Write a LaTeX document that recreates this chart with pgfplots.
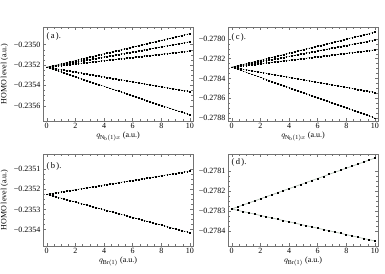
\documentclass[border=0pt]{standalone}
\usepackage{fontspec}
\setmainfont{Liberation Serif}
\usepackage{pgfplots}
\usepackage{pgfplotstable}
\pgfplotsset{compat=1.18}
\definecolor{lgl}{rgb}{0.72,0.77,0.72}

\pgfplotstableread{
x a1 a2 a3 a4 a5
0 -0.2352200 -0.2352200 -0.2352200 -0.2352200 -0.2352200
0.2 -0.2352134 -0.2352150 -0.2352168 -0.2352248 -0.2352294
0.4 -0.2352068 -0.2352100 -0.2352136 -0.2352296 -0.2352388
0.6 -0.2352002 -0.2352050 -0.2352104 -0.2352344 -0.2352482
0.8 -0.2351936 -0.2352000 -0.2352072 -0.2352392 -0.2352576
1.0 -0.2351870 -0.2351950 -0.2352040 -0.2352440 -0.2352670
1.2 -0.2351804 -0.2351900 -0.2352008 -0.2352488 -0.2352764
1.4 -0.2351738 -0.2351850 -0.2351976 -0.2352536 -0.2352858
1.6 -0.2351672 -0.2351800 -0.2351944 -0.2352584 -0.2352952
1.8 -0.2351606 -0.2351750 -0.2351912 -0.2352632 -0.2353046
2.0 -0.2351540 -0.2351700 -0.2351880 -0.2352680 -0.2353140
2.2 -0.2351474 -0.2351650 -0.2351848 -0.2352728 -0.2353234
2.4 -0.2351408 -0.2351600 -0.2351816 -0.2352776 -0.2353328
2.6 -0.2351342 -0.2351550 -0.2351784 -0.2352824 -0.2353422
2.8 -0.2351276 -0.2351500 -0.2351752 -0.2352872 -0.2353516
3.0 -0.2351210 -0.2351450 -0.2351720 -0.2352920 -0.2353610
3.2 -0.2351144 -0.2351400 -0.2351688 -0.2352968 -0.2353704
3.4 -0.2351078 -0.2351350 -0.2351656 -0.2353016 -0.2353798
3.6 -0.2351012 -0.2351300 -0.2351624 -0.2353064 -0.2353892
3.8 -0.2350946 -0.2351250 -0.2351592 -0.2353112 -0.2353986
4.0 -0.2350880 -0.2351200 -0.2351560 -0.2353160 -0.2354080
4.2 -0.2350814 -0.2351150 -0.2351528 -0.2353208 -0.2354174
4.4 -0.2350748 -0.2351100 -0.2351496 -0.2353256 -0.2354268
4.6 -0.2350682 -0.2351050 -0.2351464 -0.2353304 -0.2354362
4.8 -0.2350616 -0.2351000 -0.2351432 -0.2353352 -0.2354456
5.0 -0.2350550 -0.2350950 -0.2351400 -0.2353400 -0.2354550
5.2 -0.2350484 -0.2350900 -0.2351368 -0.2353448 -0.2354644
5.4 -0.2350418 -0.2350850 -0.2351336 -0.2353496 -0.2354738
5.6 -0.2350352 -0.2350800 -0.2351304 -0.2353544 -0.2354832
5.8 -0.2350286 -0.2350750 -0.2351272 -0.2353592 -0.2354926
6.0 -0.2350220 -0.2350700 -0.2351240 -0.2353640 -0.2355020
6.2 -0.2350154 -0.2350650 -0.2351208 -0.2353688 -0.2355114
6.4 -0.2350088 -0.2350600 -0.2351176 -0.2353736 -0.2355208
6.6 -0.2350022 -0.2350550 -0.2351144 -0.2353784 -0.2355302
6.8 -0.2349956 -0.2350500 -0.2351112 -0.2353832 -0.2355396
7.0 -0.2349890 -0.2350450 -0.2351080 -0.2353880 -0.2355490
7.2 -0.2349824 -0.2350400 -0.2351048 -0.2353928 -0.2355584
7.4 -0.2349758 -0.2350350 -0.2351016 -0.2353976 -0.2355678
7.6 -0.2349692 -0.2350300 -0.2350984 -0.2354024 -0.2355772
7.8 -0.2349626 -0.2350250 -0.2350952 -0.2354072 -0.2355866
8.0 -0.2349560 -0.2350200 -0.2350920 -0.2354120 -0.2355960
8.2 -0.2349494 -0.2350150 -0.2350888 -0.2354168 -0.2356054
8.4 -0.2349428 -0.2350100 -0.2350856 -0.2354216 -0.2356148
8.6 -0.2349362 -0.2350050 -0.2350824 -0.2354264 -0.2356242
8.8 -0.2349296 -0.2350000 -0.2350792 -0.2354312 -0.2356336
9.0 -0.2349230 -0.2349950 -0.2350760 -0.2354360 -0.2356430
9.2 -0.2349164 -0.2349900 -0.2350728 -0.2354408 -0.2356524
9.4 -0.2349098 -0.2349850 -0.2350696 -0.2354456 -0.2356618
9.6 -0.2349032 -0.2349800 -0.2350664 -0.2354504 -0.2356712
9.8 -0.2348966 -0.2349750 -0.2350632 -0.2354552 -0.2356806
10.0 -0.2348900 -0.2349700 -0.2350600 -0.2354600 -0.2356900
}\tabA

\pgfplotstableread{
x c1 c2 c3 c4 c5
0 -0.2782850 -0.2782850 -0.2782850 -0.2782850 -0.2782850
0.2 -0.2782779 -0.2782795 -0.2782815 -0.2782901 -0.2782953
0.4 -0.2782708 -0.2782740 -0.2782780 -0.2782952 -0.2783056
0.6 -0.2782637 -0.2782685 -0.2782745 -0.2783003 -0.2783159
0.8 -0.2782566 -0.2782630 -0.2782710 -0.2783054 -0.2783262
1.0 -0.2782495 -0.2782575 -0.2782675 -0.2783105 -0.2783365
1.2 -0.2782424 -0.2782520 -0.2782640 -0.2783156 -0.2783468
1.4 -0.2782353 -0.2782465 -0.2782605 -0.2783207 -0.2783571
1.6 -0.2782282 -0.2782410 -0.2782570 -0.2783258 -0.2783674
1.8 -0.2782211 -0.2782355 -0.2782535 -0.2783309 -0.2783777
2.0 -0.2782140 -0.2782300 -0.2782500 -0.2783360 -0.2783880
2.2 -0.2782069 -0.2782245 -0.2782465 -0.2783411 -0.2783983
2.4 -0.2781998 -0.2782190 -0.2782430 -0.2783462 -0.2784086
2.6 -0.2781927 -0.2782135 -0.2782395 -0.2783513 -0.2784189
2.8 -0.2781856 -0.2782080 -0.2782360 -0.2783564 -0.2784292
3.0 -0.2781785 -0.2782025 -0.2782325 -0.2783615 -0.2784395
3.2 -0.2781714 -0.2781970 -0.2782290 -0.2783666 -0.2784498
3.4 -0.2781643 -0.2781915 -0.2782255 -0.2783717 -0.2784601
3.6 -0.2781572 -0.2781860 -0.2782220 -0.2783768 -0.2784704
3.8 -0.2781501 -0.2781805 -0.2782185 -0.2783819 -0.2784807
4.0 -0.2781430 -0.2781750 -0.2782150 -0.2783870 -0.2784910
4.2 -0.2781359 -0.2781695 -0.2782115 -0.2783921 -0.2785013
4.4 -0.2781288 -0.2781640 -0.2782080 -0.2783972 -0.2785116
4.6 -0.2781217 -0.2781585 -0.2782045 -0.2784023 -0.2785219
4.8 -0.2781146 -0.2781530 -0.2782010 -0.2784074 -0.2785322
5.0 -0.2781075 -0.2781475 -0.2781975 -0.2784125 -0.2785425
5.2 -0.2781004 -0.2781420 -0.2781940 -0.2784176 -0.2785528
5.4 -0.2780933 -0.2781365 -0.2781905 -0.2784227 -0.2785631
5.6 -0.2780862 -0.2781310 -0.2781870 -0.2784278 -0.2785734
5.8 -0.2780791 -0.2781255 -0.2781835 -0.2784329 -0.2785837
6.0 -0.2780720 -0.2781200 -0.2781800 -0.2784380 -0.2785940
6.2 -0.2780649 -0.2781145 -0.2781765 -0.2784431 -0.2786043
6.4 -0.2780578 -0.2781090 -0.2781730 -0.2784482 -0.2786146
6.6 -0.2780507 -0.2781035 -0.2781695 -0.2784533 -0.2786249
6.8 -0.2780436 -0.2780980 -0.2781660 -0.2784584 -0.2786352
7.0 -0.2780365 -0.2780925 -0.2781625 -0.2784635 -0.2786455
7.2 -0.2780294 -0.2780870 -0.2781590 -0.2784686 -0.2786558
7.4 -0.2780223 -0.2780815 -0.2781555 -0.2784737 -0.2786661
7.6 -0.2780152 -0.2780760 -0.2781520 -0.2784788 -0.2786764
7.8 -0.2780081 -0.2780705 -0.2781485 -0.2784839 -0.2786867
8.0 -0.2780010 -0.2780650 -0.2781450 -0.2784890 -0.2786970
8.2 -0.2779939 -0.2780595 -0.2781415 -0.2784941 -0.2787073
8.4 -0.2779868 -0.2780540 -0.2781380 -0.2784992 -0.2787176
8.6 -0.2779797 -0.2780485 -0.2781345 -0.2785043 -0.2787279
8.8 -0.2779726 -0.2780430 -0.2781310 -0.2785094 -0.2787382
9.0 -0.2779655 -0.2780375 -0.2781275 -0.2785145 -0.2787485
9.2 -0.2779584 -0.2780320 -0.2781240 -0.2785196 -0.2787588
9.4 -0.2779513 -0.2780265 -0.2781205 -0.2785247 -0.2787691
9.6 -0.2779442 -0.2780210 -0.2781170 -0.2785298 -0.2787794
9.8 -0.2779371 -0.2780155 -0.2781135 -0.2785349 -0.2787897
10.0 -0.2779300 -0.2780100 -0.2781100 -0.2785400 -0.2788000
}\tabC

\pgfplotstableread{
x b1 b2
0 -0.2352250 -0.2352250
0.2 -0.2352227 -0.2352288
0.4 -0.2352204 -0.2352326
0.6 -0.2352181 -0.2352364
0.8 -0.2352158 -0.2352402
1.0 -0.2352135 -0.2352440
1.2 -0.2352112 -0.2352478
1.4 -0.2352089 -0.2352516
1.6 -0.2352066 -0.2352554
1.8 -0.2352043 -0.2352592
2.0 -0.2352020 -0.2352630
2.2 -0.2351997 -0.2352668
2.4 -0.2351974 -0.2352706
2.6 -0.2351951 -0.2352744
2.8 -0.2351928 -0.2352782
3.0 -0.2351905 -0.2352820
3.2 -0.2351882 -0.2352858
3.4 -0.2351859 -0.2352896
3.6 -0.2351836 -0.2352934
3.8 -0.2351813 -0.2352972
4.0 -0.2351790 -0.2353010
4.2 -0.2351767 -0.2353048
4.4 -0.2351744 -0.2353086
4.6 -0.2351721 -0.2353124
4.8 -0.2351698 -0.2353162
5.0 -0.2351675 -0.2353200
5.2 -0.2351652 -0.2353238
5.4 -0.2351629 -0.2353276
5.6 -0.2351606 -0.2353314
5.8 -0.2351583 -0.2353352
6.0 -0.2351560 -0.2353390
6.2 -0.2351537 -0.2353428
6.4 -0.2351514 -0.2353466
6.6 -0.2351491 -0.2353504
6.8 -0.2351468 -0.2353542
7.0 -0.2351445 -0.2353580
7.2 -0.2351422 -0.2353618
7.4 -0.2351399 -0.2353656
7.6 -0.2351376 -0.2353694
7.8 -0.2351353 -0.2353732
8.0 -0.2351330 -0.2353770
8.2 -0.2351307 -0.2353808
8.4 -0.2351284 -0.2353846
8.6 -0.2351261 -0.2353884
8.8 -0.2351238 -0.2353922
9.0 -0.2351215 -0.2353960
9.2 -0.2351192 -0.2353998
9.4 -0.2351169 -0.2354036
9.6 -0.2351146 -0.2354074
9.8 -0.2351123 -0.2354112
10.0 -0.2351100 -0.2354150
}\tabB

\pgfplotstableread{
x d1 d2
0 -0.2782900 -0.2782900
0.4 -0.2782798 -0.2782964
0.8 -0.2782696 -0.2783028
1.2 -0.2782594 -0.2783092
1.6 -0.2782492 -0.2783156
2.0 -0.2782390 -0.2783220
2.4 -0.2782288 -0.2783284
2.8 -0.2782186 -0.2783348
3.2 -0.2782084 -0.2783412
3.6 -0.2781982 -0.2783476
4.0 -0.2781880 -0.2783540
4.4 -0.2781778 -0.2783604
4.8 -0.2781676 -0.2783668
5.2 -0.2781574 -0.2783732
5.6 -0.2781472 -0.2783796
6.0 -0.2781370 -0.2783860
6.4 -0.2781268 -0.2783924
6.8 -0.2781166 -0.2783988
7.2 -0.2781064 -0.2784052
7.6 -0.2780962 -0.2784116
8.0 -0.2780860 -0.2784180
8.4 -0.2780758 -0.2784244
8.8 -0.2780656 -0.2784308
9.2 -0.2780554 -0.2784372
9.6 -0.2780452 -0.2784436
10.0 -0.2780350 -0.2784500
}\tabD

\pgfplotsset{
  panel/.style={
    scale only axis, width=150pt, anchor=south west,
    xmin=-0.26, xmax=10.21,
    xtick={0,2,4,6,8,10}, minor x tick num=3, minor y tick num=3,
    tick align=inside, major tick length=3pt, minor tick length=1.6pt,
    axis line style={black!55, line width=0.5pt},
    every tick/.style={black!55, line width=0.4pt},
    tick label style={font=\fontsize{8}{9}\selectfont, black},
    yticklabel style={xshift=1pt},
    xticklabel style={/pgf/number format/assume math mode=true, yshift=1.5pt},
    label style={font=\fontsize{8}{9}\selectfont},
    xlabel style={yshift=3pt},
    ylabel style={yshift=-1pt},
    scaled y ticks=false,
  },
  dots/.style={lgl!80!black, line width=0.3pt, mark=square*, mark size=0.38pt, mark options={black, draw=none}},
  bigdots/.style={lgl, line width=0.7pt, mark=square*, mark size=0.5pt, mark options={black, draw=none}},
}
\tikzset{plab/.style={anchor=west, font=\fontsize{8.5}{10}\selectfont}}

\begin{document}
\begin{tikzpicture}
\useasboundingbox (0,0) rectangle (385pt,273pt);
% (a)
\begin{axis}[panel, at={(43pt,152pt)}, height=94pt,
  ymin=-0.235750, ymax=-0.234826,
  ytick={-0.2356,-0.2354,-0.2352,-0.2350},
  yticklabels={−0.2356,−0.2354,−0.2352,−0.2350},
  xlabel={$q_{\mathrm{N_b(1)}x}$ (a.u.)},
  ylabel={HOMO level (a.u.)}]
\addplot[dots] table[x=x,y=a1]{\tabA};
\addplot[dots] table[x=x,y=a2]{\tabA};
\addplot[dots] table[x=x,y=a3]{\tabA};
\addplot[dots] table[x=x,y=a4]{\tabA};
\addplot[dots] table[x=x,y=a5]{\tabA};
\node[plab] at (rel axis cs:0.0,0.9) {(\,a\,).};
\end{axis}
% (c)
\begin{axis}[panel, at={(228pt,152pt)}, height=94pt,
  ymin=-0.278830, ymax=-0.277880,
  ytick={-0.2788,-0.2786,-0.2784,-0.2782,-0.2780},
  yticklabels={−0.2788,−0.2786,−0.2784,−0.2782,−0.2780},
  xlabel={$q_{\mathrm{N_b(1)}x}$ (a.u.)}]
\addplot[dots] table[x=x,y=c1]{\tabC};
\addplot[dots] table[x=x,y=c2]{\tabC};
\addplot[dots] table[x=x,y=c3]{\tabC};
\addplot[dots] table[x=x,y=c4]{\tabC};
\addplot[dots] table[x=x,y=c5]{\tabC};
\node[plab] at (rel axis cs:0.0,0.89) {(\,c\,).};
\end{axis}
% (b)
\begin{axis}[panel, at={(43pt,27pt)}, height=92pt,
  ymin=-0.235481, ymax=-0.235026,
  ytick={-0.2354,-0.2353,-0.2352,-0.2351},
  yticklabels={−0.2354,−0.2353,−0.2352,−0.2351},
  xlabel={$q_{\mathrm{Br(1)}}$ (a.u.)},
  ylabel={HOMO level (a.u.)}]
\addplot[dots] table[x=x,y=b1]{\tabB};
\addplot[dots] table[x=x,y=b2]{\tabB};
\node[plab] at (rel axis cs:0.0,0.86) {(\,b\,).};
\end{axis}
% (d)
\begin{axis}[panel, at={(228pt,27pt)}, height=92pt,
  ymin=-0.278475, ymax=-0.278015,
  ytick={-0.2784,-0.2783,-0.2782,-0.2781},
  yticklabels={−0.2784,−0.2783,−0.2782,−0.2781},
  xlabel={$q_{\mathrm{Br(1)}}$ (a.u.)}]
\addplot[bigdots] table[x=x,y=d1]{\tabD};
\addplot[bigdots] table[x=x,y=d2]{\tabD};
\node[plab] at (rel axis cs:0.0,0.91) {(\,d\,).};
\end{axis}
\end{tikzpicture}
\end{document}
